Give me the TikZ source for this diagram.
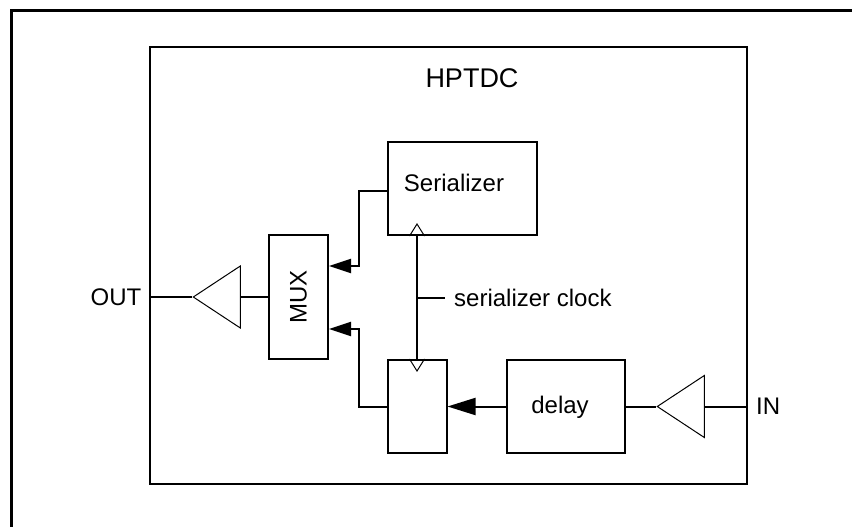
\documentclass[tikz,border=0pt]{standalone}
\usepackage{fontspec}
\setmainfont{Liberation Sans}
\usetikzlibrary{
  arrows.meta,
  positioning,
  shapes.geometric,
  calc,
}
\tikzset{
  blockbox/.style={
    rectangle, draw=black, line width=2pt, inner sep=0pt, fill=white,
  },
  bufftri/.style={
    isosceles triangle, isosceles triangle stretches,
    shape border rotate=180, draw=black, line width=1pt, inner sep=0pt,
    minimum width=62pt, minimum height=47pt,
  },
  lbl/.style={
    inner sep=0pt, font=\fontsize{24}{28}\selectfont,
  },
  wire/.style={
    line width=2pt, draw=black,
  },
  sigarrow/.style={
    wire, -{Triangle[length=22pt,width=14pt]},
  },
  sigarrowBig/.style={
    wire, -{Triangle[length=28pt,width=17pt]},
  },
  clkmark/.style={
    line width=1pt, draw=black, line join=miter,
  },
  frameline/.style={
    line width=3pt, draw=black,
  },
}

\begin{document}
\begin{tikzpicture}[x=1pt, y=-1pt]
\useasboundingbox (0,0) rectangle (852,527);

\draw[frameline] (852,11) -- (11,11) -- (11,527);

% chip outline and blocks
\node[blockbox, minimum width=597pt, minimum height=437pt] (hptdc) at (448.5,265.5) {};
\node[lbl, font=\fontsize{27}{32}\selectfont] (hptdclabel) at (472,78) {HPTDC};

\node[blockbox, minimum width=149pt, minimum height=93pt] (ser) at (462.5,188.5) {};
\node[lbl] (serlabel) at (454,183) {Serializer};
\node[blockbox, minimum width=59pt, minimum height=124pt] (mux) at (298.5,297) {};
\node[lbl, rotate=90] (muxlabel) at (mux) {MUX};
\node[blockbox, minimum width=59pt, minimum height=93pt] (reg) at (417,406.5) {};
\node[blockbox, minimum width=118pt, minimum height=93pt] (dly) at (566,406.5) {};
\node[lbl] (dlylabel) at (560,407) {delay};

\node[bufftri, anchor=apex] (outbuf) at (192,297) {};
\node[bufftri, anchor=apex] (inbuf) at (656,406.5) {};

\node[lbl] (outlabel) at (116,297) {OUT};
\node[lbl, anchor=west] (inlabel) at (756,406.5) {IN};
\node[lbl, anchor=west] (clklabel) at (454,298) {serializer clock};

% I/O buffers
\draw[wire] (hptdc.west |- outbuf.apex) -- (outbuf.apex);
\draw[wire] (outbuf.lower side) -- (mux.west);
\draw[wire] (dly.east) -- (inbuf.apex);
\draw[wire] (inbuf.lower side) -- (hptdc.east |- inbuf.lower side);

% data paths into the mux
\coordinate (muxinA) at ($(mux.east)+(0,-31)$);
\coordinate (muxinB) at ($(mux.east)+(0,32)$);
\coordinate (jogA) at ($(muxinA)+(30,0)$);
\coordinate (jogB) at ($(muxinB)+(30,0)$);
\draw[sigarrow] ([yshift=-2.5pt]ser.west) -| (jogA) -- (muxinA);
\draw[sigarrow] (reg.west) -| (jogB) -- (muxinB);
\draw[sigarrowBig] (dly.west) -- (reg.east);

% clock
\draw[wire] (reg.north |- ser.south) -- (reg.north);
\draw[wire] (reg.north |- clklabel.west) -- ([xshift=-9pt]clklabel.west);
\draw[clkmark] ($(reg.north |- ser.south)+(-7.5,0)$) -- ++(7.5,-12) -- ++(7.5,12);
\draw[clkmark] ($(reg.north)+(-7.5,0)$) -- ++(7.5,12) -- ++(7.5,-12);

\end{tikzpicture}
\end{document}
